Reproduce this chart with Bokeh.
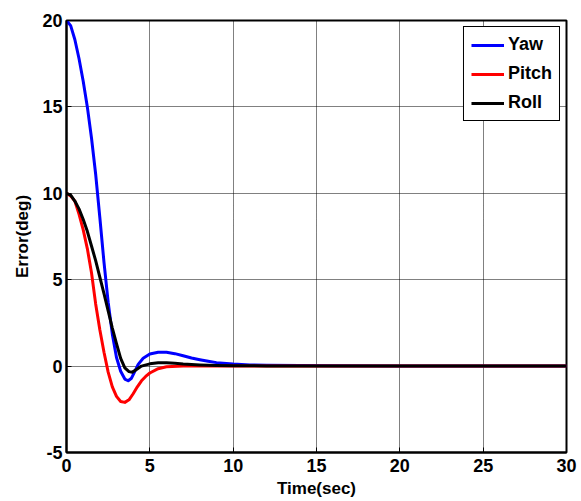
from bokeh.plotting import figure
from bokeh.models import Range1d, FixedTicker, Legend, LegendItem
from bokeh.embed import file_html
from bokeh.resources import INLINE

# Data
yaw_t = [0, 0.25, 0.5, 0.75, 1.0, 1.25, 1.5, 1.75, 2.0, 2.25, 2.5, 2.75, 3.0, 3.25, 3.5, 3.7, 3.9,
         4.1, 4.3, 4.6, 5.0, 5.5, 6.0, 6.5, 7.0, 7.5, 8.0, 8.5, 9.0, 10, 11, 12, 14, 16, 20, 25, 30]
yaw_v = [20.0, 19.7, 18.9, 17.8, 16.5, 15.0, 13.2, 11.1, 8.6, 6.0, 3.7, 1.85, 0.5, -0.3, -0.75, -0.85, -0.7,
         -0.3, 0.1, 0.45, 0.7, 0.8, 0.8, 0.72, 0.6, 0.47, 0.37, 0.28, 0.2, 0.12, 0.07, 0.05, 0.03, 0.02, 0.01, 0.0, 0.0]

pitch_t = [0, 0.25, 0.5, 0.75, 1.0, 1.25, 1.5, 1.75, 2.0, 2.25, 2.5, 2.75, 3.0, 3.25, 3.5, 3.75, 4.0,
           4.25, 4.5, 4.75, 5.0, 5.5, 6.0, 7.0, 10, 15, 20, 25, 30]
pitch_v = [10.0, 9.85, 9.55, 8.8, 7.9, 6.8, 5.4, 3.6, 2.1, 0.8, -0.35, -1.2, -1.75, -2.05, -2.1, -1.95, -1.6,
           -1.2, -0.85, -0.6, -0.4, -0.15, -0.04, 0.0, 0.0, 0.0, 0.0, 0.0, 0.0]

roll_t = [0, 0.25, 0.5, 0.75, 1.0, 1.25, 1.5, 1.75, 2.0, 2.25, 2.5, 2.75, 3.0, 3.25, 3.5, 3.75, 3.95,
          4.2, 4.5, 5.0, 5.5, 6.0, 6.5, 7.0, 8.0, 9.0, 10, 12, 15, 20, 25, 30]
roll_v = [10.0, 9.9, 9.55, 9.1, 8.5, 7.8, 6.95, 6.1, 5.15, 4.2, 3.2, 2.2, 1.3, 0.45, -0.1, -0.32, -0.35,
          -0.2, 0.0, 0.13, 0.19, 0.19, 0.16, 0.12, 0.07, 0.04, 0.02, 0.01, 0.0, 0.0, 0.0, 0.0]

x_ticks = [0, 5, 10, 15, 20, 25, 30]
y_ticks = [-5, 0, 5, 10, 15, 20]
y_tick_labels = {t: str(t) for t in y_ticks}

FONT = "Liberation Sans"

p = figure(width=581, height=501, output_backend="svg", toolbar_location=None,
           x_range=Range1d(0, 30), y_range=Range1d(-5, 20),
           min_border_left=66, min_border_right=15, min_border_top=20, min_border_bottom=49)
p.background_fill_color = "white"
p.border_fill_color = "white"
p.outline_line_color = "black"
p.outline_line_width = 2

for ax in (p.xaxis[0], p.yaxis[0]):
    ax.axis_line_color = "black"
    ax.axis_line_width = 2
    ax.major_tick_in = 5
    ax.major_tick_out = 0
    ax.minor_tick_in = 0
    ax.minor_tick_out = 0
    ax.major_tick_line_color = "black"
    ax.major_label_text_font = FONT
    ax.major_label_text_font_style = "bold"
    ax.major_label_text_font_size = "18px"
    ax.major_label_text_color = "black"
    ax.axis_label_text_font = FONT
    ax.axis_label_text_font_style = "bold"
    ax.axis_label_text_font_size = "17px"
    ax.axis_label_text_color = "black"

p.xaxis.ticker = FixedTicker(ticks=x_ticks)
p.yaxis.ticker = FixedTicker(ticks=y_ticks)
p.yaxis.major_label_overrides = y_tick_labels
p.xaxis.axis_label = "Time(sec)"
p.yaxis.axis_label = "Error(deg)"
p.xaxis.major_label_standoff = 6
p.xaxis.axis_label_standoff = 4
p.yaxis.major_label_standoff = 4
p.yaxis.axis_label_standoff = 7

for g in (p.xgrid[0], p.ygrid[0]):
    g.grid_line_color = "#000000"
    g.grid_line_dash = "1 1"
    g.grid_line_width = 1
    g.grid_line_alpha = 1.0

r_yaw = p.line(yaw_t, yaw_v, line_color="#0000ff", line_width=3, line_join="round")
r_pitch = p.line(pitch_t, pitch_v, line_color="#ff0000", line_width=3, line_join="round")
r_roll = p.line(roll_t, roll_v, line_color="#000000", line_width=3, line_join="round")

legend = Legend(items=[LegendItem(label="Yaw", renderers=[r_yaw]),
                       LegendItem(label="Pitch", renderers=[r_pitch]),
                       LegendItem(label="Roll", renderers=[r_roll])],
                location="top_right")
legend.margin = 6
legend.padding = 7
legend.spacing = 8
legend.glyph_width = 33
legend.glyph_height = 20
legend.label_height = 20
legend.label_standoff = 4
legend.label_text_font = FONT
legend.label_text_font_style = "bold"
legend.label_text_font_size = "18px"
legend.label_text_color = "black"
legend.border_line_color = "black"
legend.border_line_width = 1.5
legend.border_line_alpha = 1
legend.background_fill_color = "white"
legend.background_fill_alpha = 1
p.add_layout(legend, "center")

open("out.html", "w").write(file_html(p, INLINE))
